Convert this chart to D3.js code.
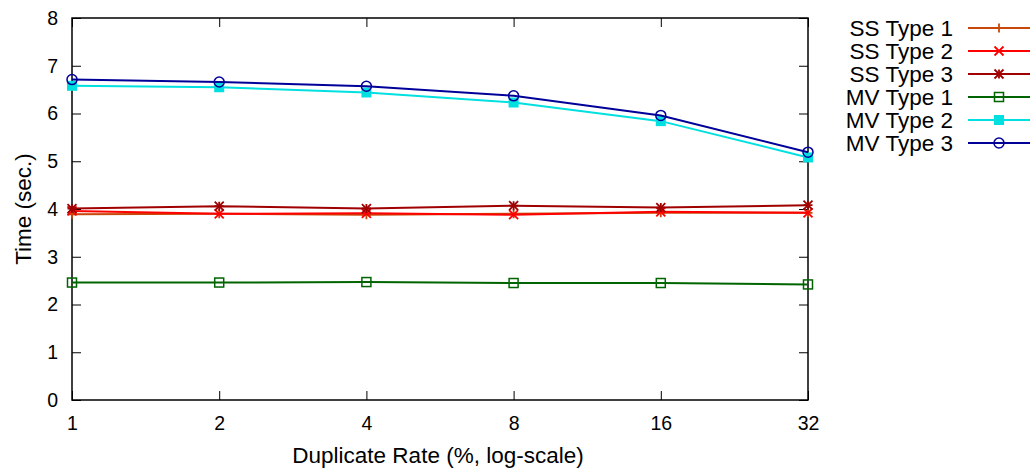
<!DOCTYPE html>
<html><head><meta charset="utf-8">
<script src="https://cdn.jsdelivr.net/npm/d3@7"></script>
<style>body{margin:0;background:#fff}svg{display:block}text{font-family:"Liberation Sans",Arial,sans-serif;fill:#000}</style>
</head><body><svg id="c" width="1031" height="468"></svg>
<script>
const rates = [1, 2, 4, 8, 16, 32];
const yTicks = [0, 1, 2, 3, 4, 5, 6, 7, 8];
const seriesNames = ["SS Type 1", "SS Type 2", "SS Type 3", "MV Type 1", "MV Type 2", "MV Type 3"];
const ssType1 = [3.89, 3.90, 3.88, 3.90, 3.92, 3.92];
const ssType2 = [3.96, 3.90, 3.91, 3.88, 3.94, 3.92];
const ssType3 = [4.01, 4.06, 4.01, 4.07, 4.03, 4.08];
const mvType1 = [2.46, 2.46, 2.47, 2.45, 2.45, 2.42];
const mvType2 = [6.58, 6.55, 6.44, 6.23, 5.84, 5.08];
const mvType3 = [6.71, 6.66, 6.57, 6.37, 5.96, 5.19];
const seriesValues = [ssType1, ssType2, ssType3, mvType1, mvType2, mvType3];
const colors = ["#c8480c", "#ff0000", "#a00000", "#006400", "#00e0e0", "#000099"];
const markers = ["plus", "cross", "star", "square", "fsquare", "circle"];

const svg = d3.select("#c");
const L = 72, R = 808, T = 18, B = 400;
const x = d3.scaleLog().base(2).domain([1, 32]).range([L, R]);
const y = d3.scaleLinear().domain([0, 8]).range([B, T]);

const tl = 9;
const xAx = svg.append("g").attr("transform", `translate(0,${B})`)
  .call(d3.axisBottom(x).tickValues(rates).tickFormat(d3.format("d")).tickSizeInner(-tl).tickSizeOuter(0).tickPadding(0));
const yAx = svg.append("g").attr("transform", `translate(${L},0)`)
  .call(d3.axisLeft(y).tickValues(yTicks).tickSizeInner(-tl).tickSizeOuter(0).tickPadding(14));
svg.append("g").attr("transform", `translate(${R},0)`)
  .call(d3.axisRight(y).tickValues(yTicks).tickSizeInner(-tl).tickSizeOuter(0).tickFormat(""));
svg.append("g").attr("transform", `translate(0,${T})`)
  .call(d3.axisTop(x).tickValues(rates).tickSizeInner(-tl).tickSizeOuter(0).tickFormat(""));
svg.selectAll(".domain").remove();
svg.selectAll(".tick line").attr("stroke", "#000").attr("stroke-width", 1);
[xAx, yAx].forEach(a => a.selectAll("text").attr("font-size", 19.5).attr("font-family", '"Liberation Sans",Arial,sans-serif').attr("fill", "#000"));
xAx.selectAll("text").attr("dy", null).attr("y", 30);
svg.append("rect").attr("x", L).attr("y", T).attr("width", R - L).attr("height", B - T)
  .attr("fill", "none").attr("stroke", "#000").attr("stroke-width", 1.5);

svg.append("text").attr("x", 438).attr("y", 463).attr("text-anchor", "middle").attr("font-size", 22.5).text("Duplicate Rate (%, log-scale)");
svg.append("text").attr("transform", "translate(31,209) rotate(-90)").attr("text-anchor", "middle").attr("font-size", 22.5).text("Time (sec.)");

function marker(g, type, cx, cy, col) {
  const s = 4.5;
  if (type === "plus" || type === "star") {
    g.append("path").attr("d", `M${cx - s},${cy}H${cx + s}M${cx},${cy - s}V${cy + s}`).attr("stroke", col).attr("stroke-width", 1.8).attr("fill", "none");
  }
  if (type === "cross" || type === "star") {
    g.append("path").attr("d", `M${cx - s},${cy - s}L${cx + s},${cy + s}M${cx - s},${cy + s}L${cx + s},${cy - s}`).attr("stroke", col).attr("stroke-width", 1.8).attr("fill", "none");
  }
  if (type === "square") {
    g.append("rect").attr("x", cx - 4.5).attr("y", cy - 4.5).attr("width", 9).attr("height", 9).attr("fill", "none").attr("stroke", col).attr("stroke-width", 1.5);
  }
  if (type === "fsquare") {
    g.append("rect").attr("x", cx - 5).attr("y", cy - 5).attr("width", 10).attr("height", 10).attr("fill", col);
  }
  if (type === "circle") {
    g.append("circle").attr("cx", cx).attr("cy", cy).attr("r", 5).attr("fill", "none").attr("stroke", col).attr("stroke-width", 1.5);
  }
}

const line = d3.line().x((d, i) => x(rates[i])).y(d => y(d));
const legY = [28, 51, 74, 97, 120, 143];
seriesValues.forEach((vals, k) => {
  const g = svg.append("g");
  g.append("path").datum(vals).attr("d", line).attr("fill", "none").attr("stroke", colors[k]).attr("stroke-width", 2);
  vals.forEach((v, i) => marker(g, markers[k], x(rates[i]), y(v), colors[k]));
  const ly = legY[k];
  svg.append("text").attr("x", 953).attr("y", ly + 8).attr("text-anchor", "end").attr("font-size", 22.5).text(seriesNames[k]);
  svg.append("line").attr("x1", 968).attr("x2", 1030).attr("y1", ly).attr("y2", ly).attr("stroke", colors[k]).attr("stroke-width", 2);
  marker(svg.append("g"), markers[k], 999, ly, colors[k]);
});
</script></body></html>
